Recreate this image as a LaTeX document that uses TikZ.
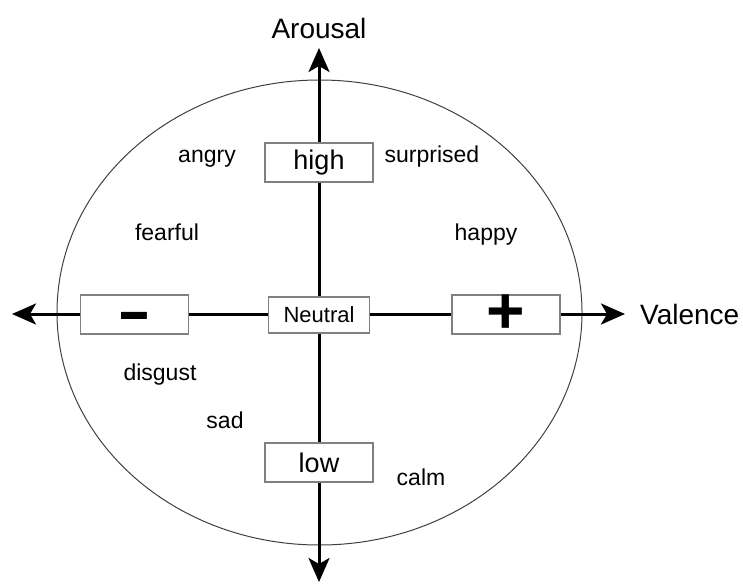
\documentclass[tikz,border=0pt]{standalone}
\usepackage{fontspec}
\setmainfont{Liberation Sans}
\usetikzlibrary{positioning}
\usetikzlibrary{arrows.meta}
\begin{document}
\begin{tikzpicture}[x=1pt, y=-1pt,
        levelbox/.style={draw=black!50, fill=white, line width=1.5pt, minimum width=108pt, minimum height=39pt, inner sep=0pt},
        axisline/.style={line width=3pt, {Stealth[length=24pt,width=21pt,inset=6pt]}-{Stealth[length=24pt,width=21pt,inset=6pt]}},
        emotion/.style={inner sep=0pt, font=\fontsize{23}{28}\selectfont},
        axislabel/.style={inner sep=0pt, font=\fontsize{28}{34}\selectfont},
    ]
    \useasboundingbox (0,0) rectangle (743,583);

    % Circumplex
    \draw[black!75, line width=1pt] (319.5,312.5) ellipse [x radius=262.5, y radius=232.5];

    % Axis ends
    \coordinate (valenceLow) at (12,314);
    \coordinate (valenceHigh) at (625,314);
    \coordinate (arousalHigh) at (319,48);
    \coordinate (arousalLow) at (319,582);

    % Lines
    \draw[axisline] (valenceLow) -- (valenceHigh);
    \draw[axisline] (arousalLow) -- (arousalHigh);

    % Objects
    \node[levelbox] (negative) at (134.5,314.5) {\fontsize{60}{60}\selectfont\smash{\raisebox{-0.28em}{\scalebox{1.7}[1]{\bfseries -}}}};
    \node[levelbox] (positive) at (506,314.5) {\fontsize{66}{66}\selectfont\bfseries +};
    \node[levelbox, minimum width=101pt, minimum height=36pt, font=\fontsize{22}{26}\selectfont] (neutral) at (319,315) {Neutral};
    \node[levelbox, font=\fontsize{27}{32}\selectfont] (high) at (319,162.5) {high};
    \node[levelbox, font=\fontsize{27}{32}\selectfont] (low) at (319,462.5) {low};

    \node[axislabel, above=9pt of arousalHigh] (arousal) {Arousal};
    \node[axislabel, right=15pt of valenceHigh] (valence) {Valence};

    % Emotions
    \node[emotion] (angry) at (207,159) {angry};
    \node[emotion] (surprised) at (432,157) {surprised};
    \node[emotion] (fearful) at (167,232) {fearful};
    \node[emotion] (happy) at (486,235) {happy};
    \node[emotion] (disgust) at (160,375) {disgust};
    \node[emotion] (sad) at (225,420) {sad};
    \node[emotion] (calm) at (421,477) {calm};

\end{tikzpicture}
\end{document}
